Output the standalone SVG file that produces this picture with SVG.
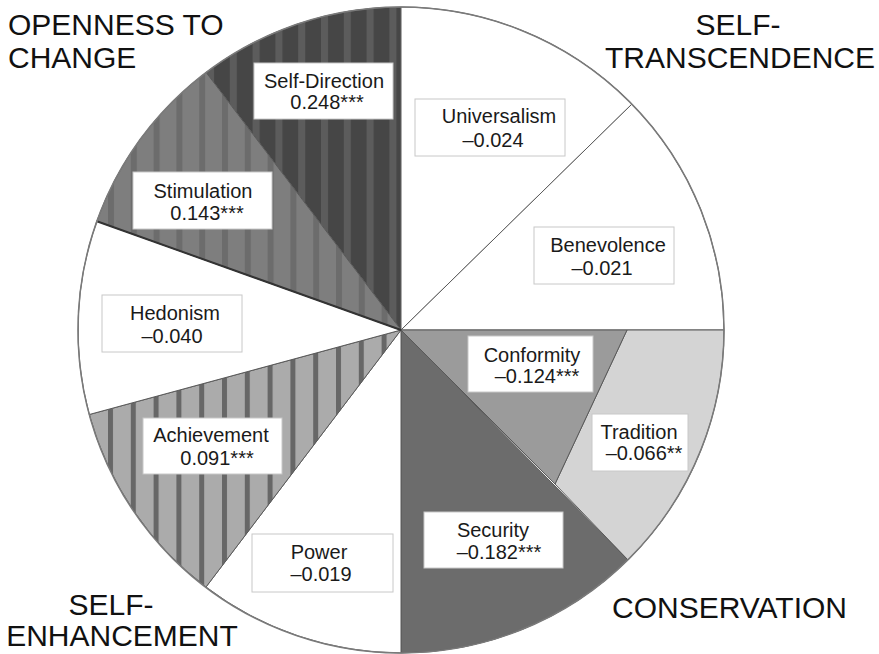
<svg xmlns="http://www.w3.org/2000/svg" width="879" height="654" viewBox="0 0 879 654">
<style>
.sl{stroke:#5a5a5a;stroke-width:1;stroke-linejoin:round}
.box{fill:#fff;stroke:#c8c8c8;stroke-width:1}
.t{font-family:"Liberation Sans",Arial,sans-serif;font-size:20px;fill:#1a1a1a;text-anchor:middle}
.big{font-family:"Liberation Sans",Arial,sans-serif;font-size:30px;fill:#111}
</style>
<defs>
<pattern id="pSD" patternUnits="userSpaceOnUse" x="207" y="0" width="22.8" height="10">
<rect width="22.8" height="10" fill="#464646"/>
<rect x="0" width="7" height="10" fill="#5c5c5c"/>
</pattern>
<pattern id="pST" patternUnits="userSpaceOnUse" x="108" y="0" width="22.8" height="10">
<rect width="22.8" height="10" fill="#7e7e7e"/>
<rect x="0" width="6" height="10" fill="#6c6c6c"/>
</pattern>
<pattern id="pAC" patternUnits="userSpaceOnUse" x="130.8" y="0" width="22.8" height="10">
<rect width="22.8" height="10" fill="#ababab"/>
<rect x="0" width="5" height="10" fill="#676767"/>
</pattern>
</defs>
<rect width="879" height="654" fill="#fff"/>

<g id="self-direction">
<path class="sl" d="M401,330 L206.1,72.4 A323,323 0 0 1 401,7 Z" fill="url(#pSD)"/>
<rect class="box" x="254" y="63" width="139" height="56"/>
<text class="t" x="324" y="88">Self-Direction</text>
<text class="t" x="327" y="109">0.248***</text>
</g>
<g id="universalism">
<path class="sl" d="M401,330 L401,7 A323,323 0 0 1 632,104 Z" fill="#fff" stroke="#8a8a8a"/>
<rect class="box" x="415" y="99" width="150" height="57"/>
<text class="t" x="499" y="123">Universalism</text>
<text class="t" x="493" y="147">–0.024</text>
</g>
<g id="benevolence">
<path class="sl" d="M401,330 L632,104 A323,323 0 0 1 724,330 Z" fill="#fff" stroke="#8a8a8a"/>
<rect class="box" x="534" y="227" width="140" height="57"/>
<text class="t" x="608" y="252">Benevolence</text>
<text class="t" x="602" y="275">–0.021</text>
</g>
<g id="tradition">
<path class="sl" d="M627,330 L724,330 A323,323 0 0 1 628,560 L555,484 Z" fill="#d4d4d4"/>
<rect class="box" x="592" y="414" width="96" height="57"/>
<text class="t" x="639" y="439">Tradition</text>
<text class="t" x="644" y="460">–0.066**</text>
</g>
<g id="conformity">
<path class="sl" d="M401,330 L627,330 L555,484 Z" fill="#9b9b9b"/>
<rect class="box" x="468" y="336" width="125" height="56"/>
<text class="t" x="532" y="362">Conformity</text>
<text class="t" x="537" y="383">–0.124***</text>
</g>
<g id="security">
<path class="sl" d="M401,330 L628,560 A323,323 0 0 1 401,653 Z" fill="#6c6c6c"/>
<rect class="box" x="424" y="512" width="139" height="56"/>
<text class="t" x="493" y="537">Security</text>
<text class="t" x="499" y="559">–0.182***</text>
</g>
<g id="power">
<path class="sl" d="M401,330 L401,653 A323,323 0 0 1 206,587 Z" fill="#fff"/>
<rect class="box" x="252" y="534" width="141" height="58"/>
<text class="t" x="319" y="559">Power</text>
<text class="t" x="321" y="581">–0.019</text>
</g>
<g id="achievement">
<path class="sl" d="M401,330 L206,587 A323,323 0 0 1 89.3,414.5 Z" fill="url(#pAC)"/>
<rect class="box" x="143" y="418" width="139" height="56"/>
<text class="t" x="211" y="442">Achievement</text>
<text class="t" x="217" y="465">0.091***</text>
</g>
<g id="hedonism">
<path class="sl" d="M401,330 L89.3,414.5 A323,323 0 0 1 96.8,221.2 Z" fill="#fff"/>
<rect class="box" x="102" y="295" width="140" height="57"/>
<text class="t" x="175" y="320">Hedonism</text>
<text class="t" x="172" y="343">–0.040</text>
</g>
<g id="stimulation">
<path class="sl" d="M401,330 L96.8,221.2 A323,323 0 0 1 206.1,72.4 Z" fill="url(#pST)"/>
<rect class="box" x="133" y="172" width="139" height="57"/>
<text class="t" x="203" y="198">Stimulation</text>
<text class="t" x="207" y="220">0.143***</text>
</g>

<g id="connectors">
<line x1="401" y1="330" x2="96.8" y2="221.2" stroke="#333" stroke-width="2"/>
<circle cx="401" cy="330" r="323" fill="none" stroke="#7a7a7a" stroke-width="1.5"/>
</g>

<g id="group-labels">
<text class="big" x="8" y="35">OPENNESS TO</text>
<text class="big" x="8" y="68">CHANGE</text>
<text class="big" x="738" y="35" text-anchor="middle">SELF-</text>
<text class="big" x="740" y="68" text-anchor="middle">TRANSCENDENCE</text>
<text class="big" x="612" y="618">CONSERVATION</text>
<text class="big" x="111" y="615" text-anchor="middle">SELF-</text>
<text class="big" x="122" y="646" text-anchor="middle">ENHANCEMENT</text>
</g>
</svg>
